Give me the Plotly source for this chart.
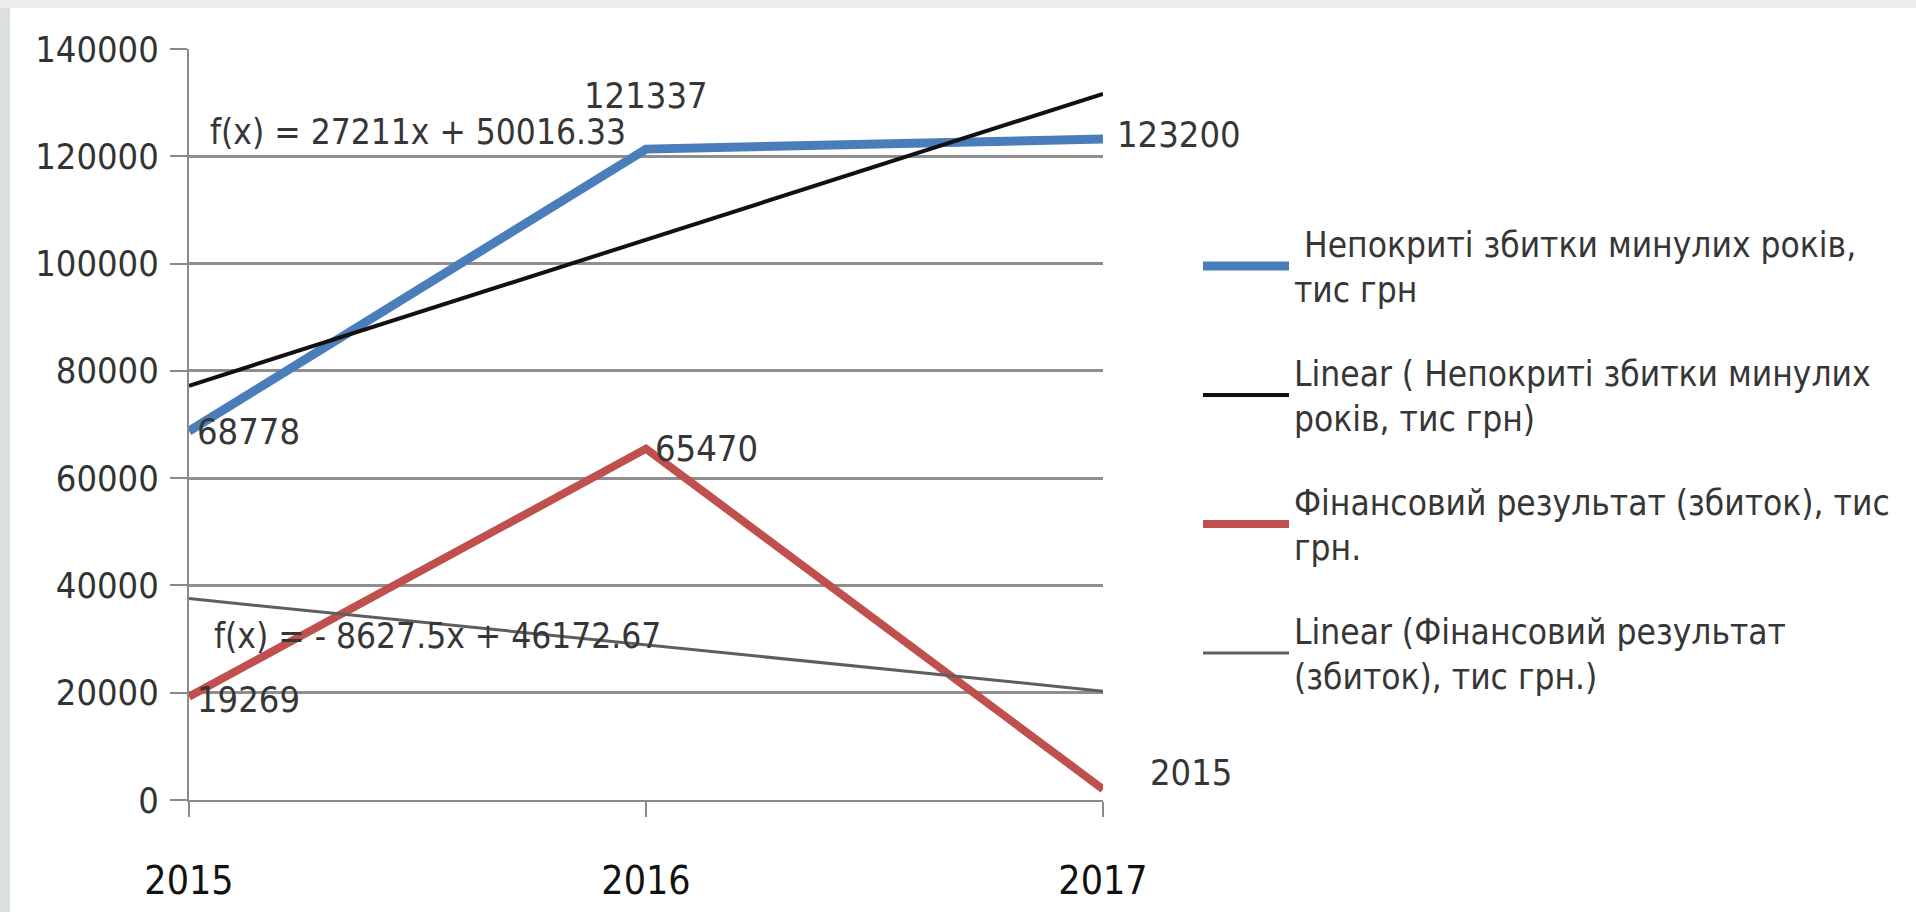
import plotly.graph_objects as go

# ---------------- data ----------------
years = [2015, 2016, 2017]
year_labels = ["2015", "2016", "2017"]
losses = [68778, 121337, 123200]          # Непокриті збитки минулих років
result = [19269, 65470, 2015]             # Фінансовий результат (збиток)
loss_trend_coef = [27211, 50016.33]       # slope, intercept (x = 1..3)
result_trend_coef = [-8627.5, 46172.67]
y_ticks = [0, 20000, 40000, 60000, 80000, 100000, 120000, 140000]

names = [
    " Непокриті збитки минулих років,<br>тис грн",
    "Linear ( Непокриті збитки минулих<br>років, тис грн)",
    "Фінансовий результат (збиток), тис<br>грн.",
    "Linear (Фінансовий результат<br>(збиток), тис грн.)",
]

idx = list(range(1, len(years) + 1))
loss_trend = [loss_trend_coef[0] * i + loss_trend_coef[1] for i in idx]
result_trend = [result_trend_coef[0] * i + result_trend_coef[1] for i in idx]

NARROW = "DejaVu Sans Condensed, Liberation Sans Narrow, Arial Narrow, Liberation Sans, sans-serif"
TXT = "#363636"

# plot area in pixels
L, R, T, B = 189, 1103, 49, 800
W, H = 1916, 912
PW, PH = R - L, B - T

fig = go.Figure()
fig.add_trace(go.Scatter(x=years, y=losses, mode="lines", name=names[0],
                         line=dict(color="#4a7ebb", width=9), legendgroup="a"))
fig.add_trace(go.Scatter(x=years, y=loss_trend, mode="lines", name=names[1],
                         line=dict(color="#111111", width=4), legendgroup="b"))
fig.add_trace(go.Scatter(x=years, y=result, mode="lines", name=names[2],
                         line=dict(color="#c0504d", width=8), legendgroup="c"))
fig.add_trace(go.Scatter(x=years, y=result_trend, mode="lines", name=names[3],
                         line=dict(color="#5e5e5e", width=3), legendgroup="d"))

ann = []
def lab(x, y, text, xanchor, xshift, yshift):
    ann.append(dict(x=x, y=y, xref="x", yref="y", text=text, showarrow=False,
                    xanchor=xanchor, yanchor="middle", xshift=xshift, yshift=yshift,
                    font=dict(family=NARROW, size=36, color=TXT)))

lab(years[0], losses[0], str(losses[0]), "left", 6, 0)
lab(years[1], losses[1], str(losses[1]), "center", 0, 54)
lab(years[2], losses[2], str(losses[2]), "left", 12, 5)
lab(years[0], result[0], str(result[0]), "left", 6, -3)
lab(years[1], result[1], str(result[1]), "left", 7, 0)
lab(years[2], result[2], str(result[2]), "left", 45, 17)

ann.append(dict(x=(208 - L) / PW, y=(B - 132) / PH, xref="paper", yref="paper",
                text="f(x) = %gx + %.2f" % (loss_trend_coef[0], loss_trend_coef[1]),
                showarrow=False, xanchor="left", yanchor="middle",
                font=dict(family=NARROW, size=35, color=TXT)))
ann.append(dict(x=(212 - L) / PW, y=(B - 636) / PH, xref="paper", yref="paper",
                text="f(x) = - %gx + %.2f" % (-result_trend_coef[0], result_trend_coef[1]),
                showarrow=False, xanchor="left", yanchor="middle",
                font=dict(family=NARROW, size=35, color=TXT)))

shapes = [
    dict(type="rect", xref="paper", yref="paper", layer="below",
         x0=-L / PW, x1=(-L + 10) / PW, y0=-(H - B) / PH, y1=B / PH,
         line=dict(width=0), fillcolor="#dcdfe0"),
    dict(type="rect", xref="paper", yref="paper", layer="below",
         x0=-L / PW, x1=(W - L) / PW, y0=(B - 8) / PH, y1=B / PH,
         line=dict(width=0), fillcolor="#ebeced"),
]

fig.update_layout(
    width=W, height=H, autosize=False,
    margin=dict(l=L, r=W - R, t=T, b=H - B, pad=0, autoexpand=False),
    paper_bgcolor="white", plot_bgcolor="white",
    annotations=ann, shapes=shapes,
    legend=dict(x=(1198 - L) / PW, y=(B - 214) / PH, xanchor="left", yanchor="top",
                font=dict(family=NARROW, size=35, color=TXT),
                itemwidth=86, tracegroupgap=35, bgcolor="rgba(0,0,0,0)",
                valign="middle"),
    showlegend=True,
)
fig.update_xaxes(range=[years[0], years[-1]], tickvals=years, ticktext=year_labels,
                 automargin=False,
                 showgrid=False, zeroline=False, showline=True, linecolor="#8a8a8a",
                 linewidth=2, ticks="outside", ticklen=15, tickcolor="#8a8a8a", tickwidth=2,
                 tickfont=dict(family=NARROW, size=39, color="#111111"),
                 ticklabelstandoff=30)
fig.update_yaxes(range=[0, 140000], tickvals=y_ticks, ticktext=[str(v) for v in y_ticks],
                 automargin=False,
                 showgrid=True, gridcolor="#8f8f8f", gridwidth=2.5, zeroline=False,
                 showline=True, linecolor="#8a8a8a", linewidth=2, ticks="outside",
                 ticklen=17, tickcolor="#8a8a8a", tickwidth=2,
                 tickfont=dict(family=NARROW, size=36, color="#333333"),
                 ticklabelstandoff=4)

fig.write_html("out.html")
